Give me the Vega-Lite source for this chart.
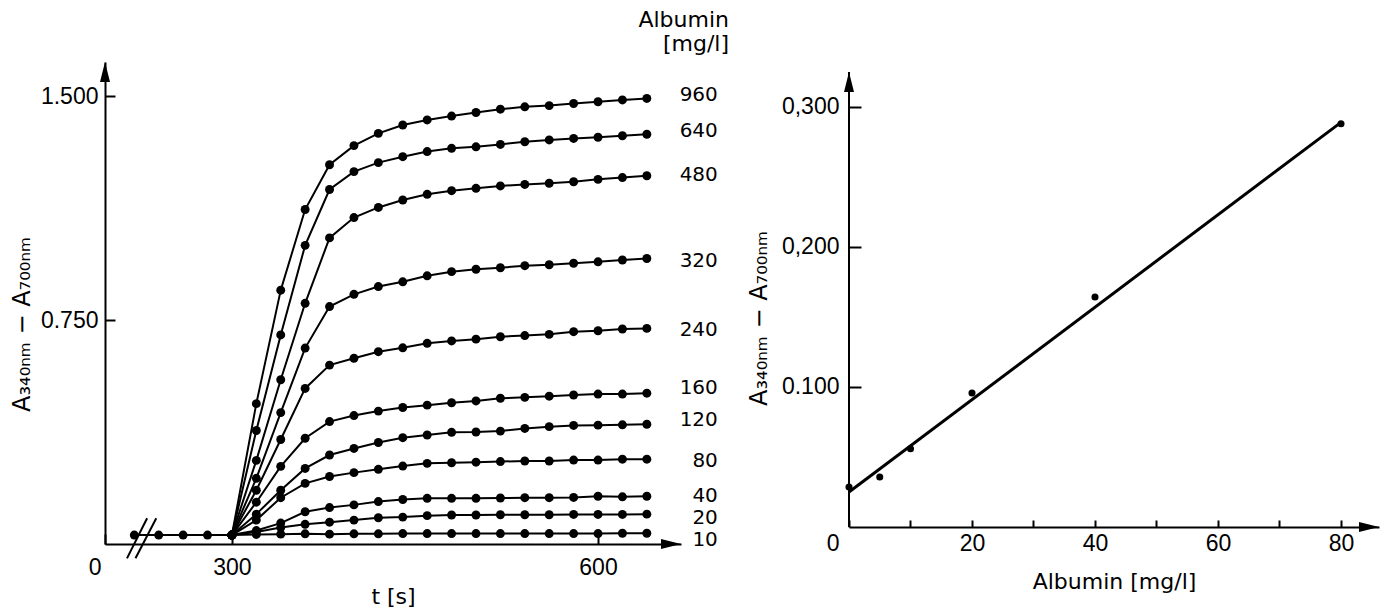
{
"$schema":"https://vega.github.io/schema/vega-lite/v6.json",
"background":"white",
"padding":{"left":10,"top":9,"right":5,"bottom":5},
"bounds":"flush",
"spacing":168,
"config":{"view":{"stroke":null},
"axis":{"domainColor":"black","domainWidth":2,"tickColor":"black","tickWidth":2,"labelColor":"black","titleColor":"black","labelFont":"Liberation Sans","labelFontSize":23,"titleFont":"DejaVu Sans","titleFontSize":22,"titleFontWeight":"normal","grid":false,"labelFlush":false,"labelOverlap":false}},
"datasets":{
"curves":[
{"c":"base","t":220,"v":0.03},{"c":"base","t":240,"v":0.03},{"c":"base","t":260,"v":0.03},{"c":"base","t":280,"v":0.03},{"c":"base","t":300,"v":0.03},
{"c":"960","t":300,"v":0.03},{"c":"960","t":320,"v":0.47},{"c":"960","t":340,"v":0.85},{"c":"960","t":360,"v":1.12},{"c":"960","t":380,"v":1.27},{"c":"960","t":400,"v":1.334},{"c":"960","t":420,"v":1.375},{"c":"960","t":440,"v":1.403},{"c":"960","t":460,"v":1.42},{"c":"960","t":480,"v":1.433},{"c":"960","t":500,"v":1.445},{"c":"960","t":520,"v":1.456},{"c":"960","t":540,"v":1.464},{"c":"960","t":560,"v":1.468},{"c":"960","t":580,"v":1.475},{"c":"960","t":600,"v":1.481},{"c":"960","t":620,"v":1.487},{"c":"960","t":640,"v":1.492},
{"c":"640","t":300,"v":0.03},{"c":"640","t":320,"v":0.38},{"c":"640","t":340,"v":0.7},{"c":"640","t":360,"v":1.0},{"c":"640","t":380,"v":1.187},{"c":"640","t":400,"v":1.247},{"c":"640","t":420,"v":1.277},{"c":"640","t":440,"v":1.297},{"c":"640","t":460,"v":1.314},{"c":"640","t":480,"v":1.325},{"c":"640","t":500,"v":1.33},{"c":"640","t":520,"v":1.338},{"c":"640","t":540,"v":1.347},{"c":"640","t":560,"v":1.353},{"c":"640","t":580,"v":1.358},{"c":"640","t":600,"v":1.362},{"c":"640","t":620,"v":1.367},{"c":"640","t":640,"v":1.372},
{"c":"480","t":300,"v":0.03},{"c":"480","t":320,"v":0.28},{"c":"480","t":340,"v":0.55},{"c":"480","t":360,"v":0.806},{"c":"480","t":380,"v":1.025},{"c":"480","t":400,"v":1.093},{"c":"480","t":420,"v":1.127},{"c":"480","t":440,"v":1.152},{"c":"480","t":460,"v":1.171},{"c":"480","t":480,"v":1.183},{"c":"480","t":500,"v":1.191},{"c":"480","t":520,"v":1.199},{"c":"480","t":540,"v":1.204},{"c":"480","t":560,"v":1.208},{"c":"480","t":580,"v":1.213},{"c":"480","t":600,"v":1.221},{"c":"480","t":620,"v":1.227},{"c":"480","t":640,"v":1.233},
{"c":"320","t":300,"v":0.03},{"c":"320","t":320,"v":0.22},{"c":"320","t":340,"v":0.44},{"c":"320","t":360,"v":0.656},{"c":"320","t":380,"v":0.795},{"c":"320","t":400,"v":0.836},{"c":"320","t":420,"v":0.862},{"c":"320","t":440,"v":0.878},{"c":"320","t":460,"v":0.898},{"c":"320","t":480,"v":0.912},{"c":"320","t":500,"v":0.92},{"c":"320","t":520,"v":0.925},{"c":"320","t":540,"v":0.932},{"c":"320","t":560,"v":0.935},{"c":"320","t":580,"v":0.94},{"c":"320","t":600,"v":0.945},{"c":"320","t":620,"v":0.951},{"c":"320","t":640,"v":0.956},
{"c":"240","t":300,"v":0.03},{"c":"240","t":320,"v":0.18},{"c":"240","t":340,"v":0.35},{"c":"240","t":360,"v":0.521},{"c":"240","t":380,"v":0.599},{"c":"240","t":400,"v":0.622},{"c":"240","t":420,"v":0.644},{"c":"240","t":440,"v":0.657},{"c":"240","t":460,"v":0.672},{"c":"240","t":480,"v":0.68},{"c":"240","t":500,"v":0.686},{"c":"240","t":520,"v":0.694},{"c":"240","t":540,"v":0.698},{"c":"240","t":560,"v":0.702},{"c":"240","t":580,"v":0.711},{"c":"240","t":600,"v":0.714},{"c":"240","t":620,"v":0.72},{"c":"240","t":640,"v":0.722},
{"c":"160","t":300,"v":0.03},{"c":"160","t":320,"v":0.14},{"c":"160","t":340,"v":0.26},{"c":"160","t":360,"v":0.354},{"c":"160","t":380,"v":0.41},{"c":"160","t":400,"v":0.43},{"c":"160","t":420,"v":0.445},{"c":"160","t":440,"v":0.457},{"c":"160","t":460,"v":0.465},{"c":"160","t":480,"v":0.473},{"c":"160","t":500,"v":0.479},{"c":"160","t":520,"v":0.488},{"c":"160","t":540,"v":0.491},{"c":"160","t":560,"v":0.495},{"c":"160","t":580,"v":0.499},{"c":"160","t":600,"v":0.502},{"c":"160","t":620,"v":0.502},{"c":"160","t":640,"v":0.505},
{"c":"120","t":300,"v":0.03},{"c":"120","t":320,"v":0.1},{"c":"120","t":340,"v":0.18},{"c":"120","t":360,"v":0.253},{"c":"120","t":380,"v":0.298},{"c":"120","t":400,"v":0.32},{"c":"120","t":420,"v":0.34},{"c":"120","t":440,"v":0.356},{"c":"120","t":460,"v":0.365},{"c":"120","t":480,"v":0.374},{"c":"120","t":500,"v":0.375},{"c":"120","t":520,"v":0.378},{"c":"120","t":540,"v":0.387},{"c":"120","t":560,"v":0.393},{"c":"120","t":580,"v":0.397},{"c":"120","t":600,"v":0.398},{"c":"120","t":620,"v":0.399},{"c":"120","t":640,"v":0.401},
{"c":"80","t":300,"v":0.03},{"c":"80","t":320,"v":0.08},{"c":"80","t":340,"v":0.155},{"c":"80","t":360,"v":0.203},{"c":"80","t":380,"v":0.226},{"c":"80","t":400,"v":0.239},{"c":"80","t":420,"v":0.25},{"c":"80","t":440,"v":0.261},{"c":"80","t":460,"v":0.27},{"c":"80","t":480,"v":0.272},{"c":"80","t":500,"v":0.274},{"c":"80","t":520,"v":0.276},{"c":"80","t":540,"v":0.278},{"c":"80","t":560,"v":0.278},{"c":"80","t":580,"v":0.281},{"c":"80","t":600,"v":0.281},{"c":"80","t":620,"v":0.284},{"c":"80","t":640,"v":0.284},
{"c":"40","t":300,"v":0.03},{"c":"40","t":320,"v":0.045},{"c":"40","t":340,"v":0.07},{"c":"40","t":360,"v":0.108},{"c":"40","t":380,"v":0.122},{"c":"40","t":400,"v":0.131},{"c":"40","t":420,"v":0.142},{"c":"40","t":440,"v":0.149},{"c":"40","t":460,"v":0.153},{"c":"40","t":480,"v":0.153},{"c":"40","t":500,"v":0.153},{"c":"40","t":520,"v":0.154},{"c":"40","t":540,"v":0.155},{"c":"40","t":560,"v":0.155},{"c":"40","t":580,"v":0.156},{"c":"40","t":600,"v":0.16},{"c":"40","t":620,"v":0.158},{"c":"40","t":640,"v":0.16},
{"c":"20","t":300,"v":0.03},{"c":"20","t":320,"v":0.04},{"c":"20","t":340,"v":0.055},{"c":"20","t":360,"v":0.066},{"c":"20","t":380,"v":0.073},{"c":"20","t":400,"v":0.08},{"c":"20","t":420,"v":0.088},{"c":"20","t":440,"v":0.09},{"c":"20","t":460,"v":0.095},{"c":"20","t":480,"v":0.097},{"c":"20","t":500,"v":0.097},{"c":"20","t":520,"v":0.098},{"c":"20","t":540,"v":0.098},{"c":"20","t":560,"v":0.098},{"c":"20","t":580,"v":0.099},{"c":"20","t":600,"v":0.099},{"c":"20","t":620,"v":0.099},{"c":"20","t":640,"v":0.1},
{"c":"10","t":300,"v":0.03},{"c":"10","t":320,"v":0.032},{"c":"10","t":340,"v":0.033},{"c":"10","t":360,"v":0.034},{"c":"10","t":380,"v":0.033},{"c":"10","t":400,"v":0.034},{"c":"10","t":420,"v":0.034},{"c":"10","t":440,"v":0.035},{"c":"10","t":460,"v":0.035},{"c":"10","t":480,"v":0.035},{"c":"10","t":500,"v":0.035},{"c":"10","t":520,"v":0.035},{"c":"10","t":540,"v":0.035},{"c":"10","t":560,"v":0.035},{"c":"10","t":580,"v":0.035},{"c":"10","t":600,"v":0.035},{"c":"10","t":620,"v":0.036},{"c":"10","t":640,"v":0.036}
],
"labels":[{"c":"960","t":640,"v":1.502},{"c":"640","t":640,"v":1.382},{"c":"480","t":640,"v":1.237},{"c":"320","t":640,"v":0.949},{"c":"240","t":640,"v":0.715},{"c":"160","t":640,"v":0.521},{"c":"120","t":640,"v":0.414},{"c":"80","t":640,"v":0.277},{"c":"40","t":640,"v":0.162},{"c":"20","t":640,"v":0.088},{"c":"10","t":640,"v":0.014}],
"brk":[{"t":214,"v":-0.048,"t2":230.5,"v2":0.086},{"t":221,"v":-0.048,"t2":238,"v2":0.086}],
"arrUpL":[{"t":196,"v":1.614}],
"arrRtL":[{"t":668,"v":0}],
"cal":[{"a":0,"v":0.0286},{"a":5,"v":0.0357},{"a":10,"v":0.0559},{"a":20,"v":0.0957},{"a":40,"v":0.1643},{"a":80,"v":0.288}],
"fit":[{"a":0,"v":0.025},{"a":80,"v":0.289}],
"axR":[{"a":0,"v":0,"v2":0.325}],
"arrUpR":[{"a":0,"v":0.325}],
"arrRtR":[{"a":86.18,"v":0}]
},
"hconcat":[
{
"width":576,"height":482,
"title":{"text":["Albumin","[mg/l]"],"frame":"group","anchor":"end","align":"right","dx":48,"offset":6,"fontSize":22,"font":"DejaVu Sans","fontWeight":"normal","lineHeight":24,"color":"black"},
"encoding":{
"x":{"field":"t","type":"quantitative","scale":{"domain":[196,668],"nice":false,"zero":false},
"axis":{"title":"t [s]","values":[196,300,600],"format":"d","labelExpr":"datum.value < 250 ? '0' : datum.label",
"labelAlign":{"condition":{"test":"datum.value < 250","value":"right"},"value":"center"},
"labelOffset":{"condition":{"test":"datum.value < 250","value":-4},"value":0},
"tickSize":-10,"labelPadding":22,"titlePadding":7}},
"y":{"field":"v","type":"quantitative","scale":{"domain":[0,1.614],"nice":false,"zero":false},
"axis":{"title":"A₃₄₀ₙₘ − A₇₀₀ₙₘ","titleFontSize":24,"values":[0.75,1.5],"format":".3f","tickSize":-10,"labelPadding":17,"titlePadding":6,"titleY":262}}
},
"layer":[
{"data":{"name":"curves"},"mark":{"type":"line","color":"black","strokeWidth":2},"encoding":{"detail":{"field":"c"}}},
{"data":{"name":"curves"},"mark":{"type":"point","filled":true,"color":"black","opacity":1,"size":80}},
{"data":{"name":"labels"},"mark":{"type":"text","align":"right","baseline":"middle","dx":71,"font":"DejaVu Sans","fontSize":20,"color":"black"},"encoding":{"text":{"field":"c"}}},
{"data":{"name":"brk"},"mark":{"type":"rule","color":"black","strokeWidth":2},"encoding":{"x2":{"field":"t2"},"y2":{"field":"v2"}}},
{"data":{"name":"arrUpL"},"mark":{"type":"point","shape":"M0,0L0.25,1L-0.25,1Z","filled":true,"color":"black","opacity":1,"size":1600}},
{"data":{"name":"arrRtL"},"mark":{"type":"point","shape":"M0,0L-1,0.25L-1,-0.25Z","filled":true,"color":"black","opacity":1,"size":1600}}
]
},
{
"width":530,"height":465,
"encoding":{
"x":{"field":"a","type":"quantitative","scale":{"domain":[0,86.18],"nice":false,"zero":false},
"axis":{"title":"Albumin [mg/l]","values":[0,10,20,30,40,50,60,70,80],"format":"d","labelExpr":"datum.value % 20 == 0 ? datum.label : ''",
"labelAlign":{"condition":{"test":"datum.value == 0","value":"right"},"value":"center"},
"labelOffset":{"condition":{"test":"datum.value == 0","value":-10},"value":0},
"tickSize":-7,"labelPadding":12,"titlePadding":16}},
"y":{"field":"v","type":"quantitative","scale":{"domain":[0,0.3321],"nice":false,"zero":false},
"axis":{"title":"A₃₄₀ₙₘ − A₇₀₀ₙₘ","titleFontSize":24,"values":[0.1,0.2,0.3],"labelExpr":"datum.value > 0.25 ? '0,300' : datum.value > 0.15 ? '0,200' : '0.100'","domain":false,"tickSize":-12,"labelPadding":22,"titlePadding":10,"titleY":256}}
},
"layer":[
{"data":{"name":"fit"},"mark":{"type":"line","color":"black","strokeWidth":3}},
{"data":{"name":"cal"},"mark":{"type":"point","filled":true,"color":"black","opacity":1,"size":50}},
{"data":{"name":"axR"},"mark":{"type":"rule","color":"black","strokeWidth":2},"encoding":{"y2":{"field":"v2"}}},
{"data":{"name":"arrUpR"},"mark":{"type":"point","shape":"M0,0L0.25,1L-0.25,1Z","filled":true,"color":"black","opacity":1,"size":1600}},
{"data":{"name":"arrRtR"},"mark":{"type":"point","shape":"M0,0L-1,0.25L-1,-0.25Z","filled":true,"color":"black","opacity":1,"size":1600}}
]
}
]
}
